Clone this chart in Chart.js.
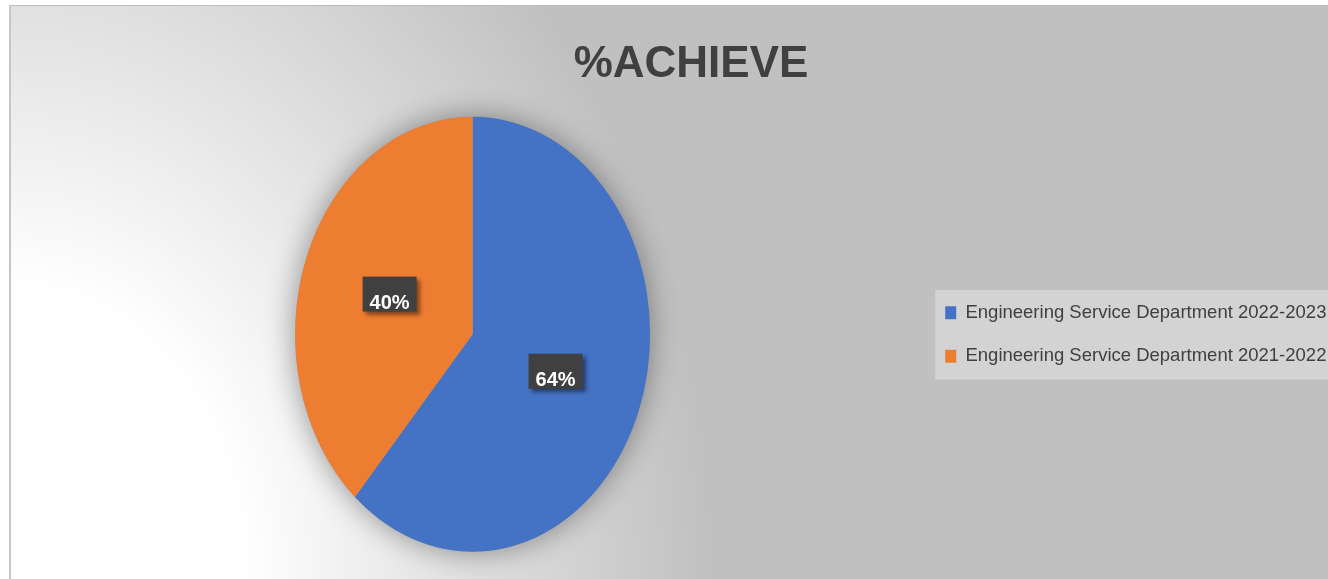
<!DOCTYPE html>
<html>
<head>
<meta charset="utf-8">
<title>%ACHIEVE</title>
<script src="https://cdn.jsdelivr.net/npm/chart.js"></script>
<style>
  html, body { margin: 0; padding: 0; background: #fff; overflow: hidden; }
  #frame {
    position: absolute; left: 9px; top: 5px; width: 1346px; height: 573px;
    border-left: 2px solid #c6c6c6; border-top: 1px solid #bdbdbd;
    background: radial-gradient(ellipse 700px 875px at 0px 573px, #fff 0%, #fff 33%, #c0c0c0 100%);
  }
  #wrap { position: relative; width: 1346px; height: 573px; }
</style>
</head>
<body>
<div id="frame"><div id="wrap"><canvas id="achieveChart"></canvas></div></div>
<script>
    const categories = ['Engineering Service Department 2022-2023', 'Engineering Service Department 2021-2022'];
    const achieved = [64, 40];
    const sliceColors = ['#4472C4', '#ED7D31'];

    // the original pie is an oval, taller than wide
    const SY = 435 / 355;
    const textColor = '#404040';
    const fontFamily = '"Liberation Sans", Arial, sans-serif';

    const ovalPie = {
        id: 'ovalPie',
        beforeDraw(chart) {
            const ctx = chart.ctx;
            const boxes = chart.legend.legendHitBoxes;
            if (!boxes.length) return;
            const first = boxes[0], last = boxes[boxes.length - 1];
            const x0 = first.left - 10;
            const y0 = first.top - 13.5;
            ctx.save();
            ctx.fillStyle = '#d3d3d3';
            ctx.fillRect(x0, y0, chart.width - x0, last.top + last.height + 14 - y0);
            ctx.restore();
        },
        beforeDatasetsDraw(chart) {
            const ctx = chart.ctx;
            const arc = chart.getDatasetMeta(0).data[0];
            const {x, y, outerRadius} = arc.getProps(['x', 'y', 'outerRadius'], true);
            ctx.save();
            ctx.shadowColor = 'rgba(0,0,0,0.4)';
            ctx.shadowBlur = 30;
            ctx.fillStyle = '#999';
            ctx.beginPath();
            ctx.ellipse(x, y, outerRadius, outerRadius * SY, 0, 0, Math.PI * 2);
            ctx.fill();
            ctx.restore();
            ctx.save();
            ctx.translate(x, y);
            ctx.scale(1, SY);
            ctx.translate(-x, -y);
        },
        afterDatasetsDraw(chart) {
            const ctx = chart.ctx;
            ctx.restore();
            const meta = chart.getDatasetMeta(0);
            const cy = meta.data[0].y;
            ctx.save();
            ctx.font = 'bold 20px ' + fontFamily;
            ctx.textAlign = 'center';
            ctx.textBaseline = 'alphabetic';
            meta.data.forEach((arc, i) => {
                const p = arc.tooltipPosition(true);
                const px = p.x, py = cy + (p.y - cy) * SY;
                ctx.save();
                ctx.shadowColor = 'rgba(0,0,0,0.45)';
                ctx.shadowBlur = 4;
                ctx.shadowOffsetX = 3;
                ctx.shadowOffsetY = 3;
                ctx.fillStyle = '#404040';
                ctx.fillRect(px - 27, py - 19, 54, 35);
                ctx.restore();
                ctx.fillStyle = '#fff';
                ctx.fillText(chart.data.datasets[0].data[i] + '%', px, py + 13.5);
            });
            ctx.restore();
        }
    };

    new Chart(document.getElementById('achieveChart'), {
        type: 'pie',
        data: {
            labels: categories,
            datasets: [{
                data: achieved,
                backgroundColor: sliceColors,
                borderWidth: 0,
                radius: 177.5
            }]
        },
        options: {
            responsive: true,
            maintainAspectRatio: false,
            animation: false,
            events: [],
            layout: { padding: { left: 14, right: 0, top: 0, bottom: 0 } },
            plugins: {
                title: {
                    display: true,
                    text: '%ACHIEVE',
                    color: textColor,
                    font: { family: fontFamily, size: 44, weight: 'bold', lineHeight: 1.1 },
                    padding: { top: 35, bottom: 0 }
                },
                legend: {
                    position: 'right',
                    title: {
                        display: true,
                        text: '',
                        font: { size: 10, lineHeight: 1 },
                        padding: { top: 0, bottom: 74 }
                    },
                    labels: {
                        boxWidth: 11,
                        boxHeight: 13,
                        padding: 25,
                        color: textColor,
                        font: { family: fontFamily, size: 18.5 },
                        generateLabels(chart) {
                            const items = Chart.overrides.pie.plugins.legend.labels.generateLabels(chart);
                            items.forEach(it => { it.text = it.text + '    '; it.lineWidth = 0; });
                            return items;
                        }
                    }
                },
                tooltip: { enabled: false }
            }
        },
        plugins: [ovalPie]
    });
</script>
</body>
</html>
